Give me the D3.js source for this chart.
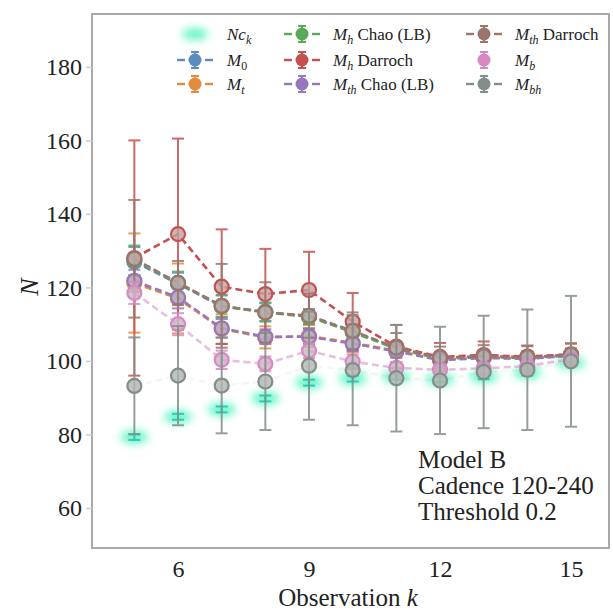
<!DOCTYPE html>
<html>
<head>
<meta charset="utf-8">
<script src="https://cdn.jsdelivr.net/npm/d3@7"></script>
<style>
  body { margin: 0; background: #fff; }
  svg { display: block; }
  text { font-family: "Liberation Serif", "DejaVu Serif", serif; fill: #222; }
</style>
</head>
<body>
<div id="chart"></div>
<script>
'use strict';

// observation number k
const ks = [5, 6, 7, 8, 9, 10, 11, 12, 13, 14, 15];

// estimates and half-widths of the error bars
const ncK          = [79.3, 84.8, 86.8, 89.8, 94.1, 95.2, 95.7, 95.0, 95.8, 96.8, 99.5];
const ncKErr       = [0.8, 0.8, 0.8, 0.8, 0.8, 0.8, 0.8, 0.8, 0.8, 0.8, 0.8];
const m0           = [127.0, 121.0, 114.8, 113.4, 112.1, 108.0, 103.5, 100.8, 101.2, 101.0, 101.6];
const m0Err        = [4, 3, 3, 2.5, 2, 2, 1.5, 1.5, 1.5, 1.5, 1.5];
const mt           = [121.2, 117.0, 108.7, 106.4, 106.8, 104.9, 102.8, 100.3, 100.9, 100.7, 101.5];
const mtErr        = [13.5, 9.5, 4, 3, 3, 2.5, 2, 2, 2, 2, 2];
const mhChao       = [127.4, 121.3, 115.0, 113.2, 112.0, 107.8, 103.3, 100.6, 101.0, 100.8, 101.5];
const mhChaoErr    = [4, 3, 3, 2.5, 2, 2, 1.5, 1.5, 1.5, 1.5, 1.5];
const mhDarroch    = [128.0, 134.5, 120.2, 118.2, 119.3, 110.7, 103.9, 101.1, 101.6, 101.2, 101.8];
const mhDarrochErr = [32, 26, 15.6, 12.3, 10.4, 7.8, 5.9, 3.8, 3.7, 3, 3];
const mthChao      = [121.8, 117.3, 108.9, 106.6, 106.6, 104.7, 102.6, 100.2, 100.8, 100.6, 101.4];
const mthChaoErr   = [3, 3, 2.5, 2, 2, 2, 1.5, 1.5, 1.5, 1.5, 1.5];
const mthDarroch   = [127.8, 121.2, 115.0, 113.2, 112.3, 108.2, 103.6, 100.9, 101.3, 101.0, 101.7];
const mthDarrochErr= [16, 6, 11.4, 8.2, 6, 5, 4, 3, 3, 3, 3];
const mb           = [118.5, 110.0, 100.3, 99.2, 102.8, 99.8, 98.1, 97.6, 98.0, 98.6, 100.5];
const mbErr        = [3, 3, 2.5, 2, 2, 2, 1.5, 1.5, 1.5, 1.5, 1.5];
const mbh          = [93.2, 96.0, 93.3, 94.4, 98.7, 97.5, 95.3, 94.7, 97.0, 97.6, 99.9];
const mbhErr       = [13.2, 13.5, 13, 13.2, 14.7, 15, 14.5, 14.6, 15.3, 16.4, 17.8];

const xTicks = [6, 9, 12, 15];
const yTicks = [60, 80, 100, 120, 140, 160, 180];

const annotation = ['Model B', 'Cadence 120-240', 'Threshold 0.2'];

// label parts: [main, subscript, rest]
const series = [
  {main: 'M', sub: '0',  rest: '',            vals: m0,         err: m0Err,         color: '#5a8cc0', lineOp: 1},
  {main: 'M', sub: 't',  rest: '',            vals: mt,         err: mtErr,         color: '#e38c3f', lineOp: 1},
  {main: 'M', sub: 'h',  rest: ' Chao (LB)',  vals: mhChao,     err: mhChaoErr,     color: '#5aa95a', lineOp: 1},
  {main: 'M', sub: 'h',  rest: ' Darroch',    vals: mhDarroch,  err: mhDarrochErr,  color: '#c45050', lineOp: 1},
  {main: 'M', sub: 'th', rest: ' Chao (LB)',  vals: mthChao,    err: mthChaoErr,    color: '#9677bd', lineOp: 1},
  {main: 'M', sub: 'th', rest: ' Darroch',    vals: mthDarroch, err: mthDarrochErr, color: '#9b756b', lineOp: 1},
  {main: 'M', sub: 'b',  rest: '',            vals: mb,         err: mbErr,         color: '#d889c2', lineOp: 0.55},
  {main: 'M', sub: 'bh', rest: '',            vals: mbh,        err: mbhErr,        color: '#838e89', lineOp: 0.08}
];
const ncColor = '#3ff2b8';

const W = 613, H = 613;
const plot = {left: 92, right: 609, top: 14, bottom: 548};

const svg = d3.select('#chart').append('svg').attr('width', W).attr('height', H);

const defs = svg.append('defs');
defs.append('filter').attr('id', 'blur').attr('x', '-50%').attr('y', '-80%').attr('width', '200%').attr('height', '260%')
  .append('feGaussianBlur').attr('stdDeviation', 4);

const x = d3.scaleLinear().domain([4.03, 15.87]).range([plot.left, plot.right]);
const y = d3.scaleLinear().domain([49.1, 194.4]).range([plot.bottom, plot.top]);

// frame
svg.append('rect')
  .attr('x', plot.left).attr('y', plot.top)
  .attr('width', plot.right - plot.left).attr('height', plot.bottom - plot.top)
  .attr('fill', 'none').attr('stroke', '#a9a9a9').attr('stroke-width', 2);

// axes
const yAxis = svg.append('g').attr('transform', `translate(${plot.left},0)`)
  .call(d3.axisLeft(y).tickValues(yTicks).tickSize(6).tickPadding(4));
yAxis.select('.domain').remove();
yAxis.selectAll('line').attr('stroke', '#ccc').attr('stroke-width', 1.5);
yAxis.selectAll('text').attr('font-size', 24).attr('fill', '#222')
  .style('font-family', '"Liberation Serif", serif');

const xAxis = svg.append('g').attr('transform', `translate(0,${plot.bottom})`)
  .call(d3.axisBottom(x).tickValues(xTicks).tickSize(0).tickPadding(12));
xAxis.select('.domain').remove();
xAxis.selectAll('text').attr('font-size', 24).attr('fill', '#222')
  .style('font-family', '"Liberation Serif", serif');

// axis labels
const xl = svg.append('text').attr('x', 348).attr('y', 606).attr('text-anchor', 'middle').attr('font-size', 25);
xl.append('tspan').text('Observation ');
xl.append('tspan').attr('font-style', 'italic').text('k');

svg.append('text').attr('transform', 'translate(38,287) rotate(-90)')
  .attr('text-anchor', 'middle').attr('font-size', 26).attr('font-style', 'italic').text('N');

const g = svg.append('g');

// Nc_k : blurred blobs with tiny error bars
const ncPts = ks.map((k, i) => ({k: k, v: ncK[i], e: ncKErr[i]}));
g.selectAll('.ncblob').data(ncPts).join('ellipse')
  .attr('cx', d => x(d.k)).attr('cy', d => y(d.v))
  .attr('rx', 14).attr('ry', 6.5)
  .attr('fill', ncColor).attr('opacity', 0.8).attr('filter', 'url(#blur)');

function drawErr(sel, pts, color, op) {
  const eg = sel.append('g').attr('stroke', color).attr('stroke-width', 2).attr('opacity', op);
  pts.forEach(d => {
    const cx = x(d.k), y0 = y(d.v - d.e), y1 = y(d.v + d.e);
    eg.append('line').attr('x1', cx).attr('x2', cx).attr('y1', y0).attr('y2', y1);
    eg.append('line').attr('x1', cx - 6).attr('x2', cx + 6).attr('y1', y0).attr('y2', y0);
    eg.append('line').attr('x1', cx - 6).attr('x2', cx + 6).attr('y1', y1).attr('y2', y1);
  });
}
drawErr(g, ncPts, '#20c8b0', 0.9);

const line = d3.line().x(d => x(d.k)).y(d => y(d.v));

series.forEach(s => {
  const pts = ks.map((k, i) => ({k: k, v: s.vals[i], e: s.err[i]}));
  const sg = g.append('g');
  drawErr(sg, pts, s.color, 0.85);
  sg.append('path').attr('d', line(pts))
    .attr('fill', 'none').attr('stroke', s.color).attr('stroke-width', 2.6)
    .attr('stroke-dasharray', '7,4').attr('opacity', s.lineOp);
  sg.selectAll('circle').data(pts).join('circle')
    .attr('cx', d => x(d.k)).attr('cy', d => y(d.v)).attr('r', 7)
    .attr('fill', d3.interpolateRgb(s.color, '#c4c4c4')(0.7)).attr('fill-opacity', 0.8)
    .attr('stroke', s.color).attr('stroke-width', 2.2);
});

// legend
const legendItems = [{nc: true}].concat(series);
const colX = [195, 302, 484];
const textX = [227, 333, 515];
const rowY = [34, 60, 84];

legendItems.forEach((s, i) => {
  const c = Math.floor(i / 3), r = i % 3;
  const cx = colX[c], cy = rowY[r];
  const lg = svg.append('g');
  if (s.nc) {
    lg.append('ellipse').attr('cx', cx).attr('cy', cy).attr('rx', 13).attr('ry', 6)
      .attr('fill', ncColor).attr('opacity', 0.8).attr('filter', 'url(#blur)');
  } else {
    if (s.sub !== 'b') {
      lg.append('line').attr('x1', cx - 18).attr('x2', cx - 10).attr('y1', cy).attr('y2', cy)
        .attr('stroke', s.color).attr('stroke-width', 2.4);
      lg.append('line').attr('x1', cx + 10).attr('x2', cx + 18).attr('y1', cy).attr('y2', cy)
        .attr('stroke', s.color).attr('stroke-width', 2.4);
    }
    lg.append('line').attr('x1', cx).attr('x2', cx).attr('y1', cy - 8).attr('y2', cy + 8)
      .attr('stroke', s.color).attr('stroke-width', 2);
    lg.append('line').attr('x1', cx - 4).attr('x2', cx + 4).attr('y1', cy - 8).attr('y2', cy - 8)
      .attr('stroke', s.color).attr('stroke-width', 2);
    lg.append('line').attr('x1', cx - 4).attr('x2', cx + 4).attr('y1', cy + 8).attr('y2', cy + 8)
      .attr('stroke', s.color).attr('stroke-width', 2);
    lg.append('circle').attr('cx', cx).attr('cy', cy).attr('r', 6.5).attr('fill', s.color);
  }
  const t = lg.append('text').attr('x', textX[c]).attr('y', cy + 6).attr('font-size', 17);
  if (s.nc) {
    t.append('tspan').attr('font-style', 'italic').text('Nc');
    t.append('tspan').attr('font-style', 'italic').attr('font-size', 12).attr('dy', 4).text('k');
  } else {
    t.append('tspan').attr('font-style', 'italic').text(s.main);
    t.append('tspan').attr('font-style', s.sub === '0' ? 'normal' : 'italic')
      .attr('font-size', 12).attr('dy', 4).text(s.sub);
    if (s.rest) t.append('tspan').attr('dy', -4).text(s.rest);
  }
});

// annotation
svg.append('g').selectAll('text').data(annotation).join('text')
  .attr('x', 418).attr('y', (d, i) => 468 + i * 26)
  .attr('font-size', 25).text(d => d);
</script>
</body>
</html>
